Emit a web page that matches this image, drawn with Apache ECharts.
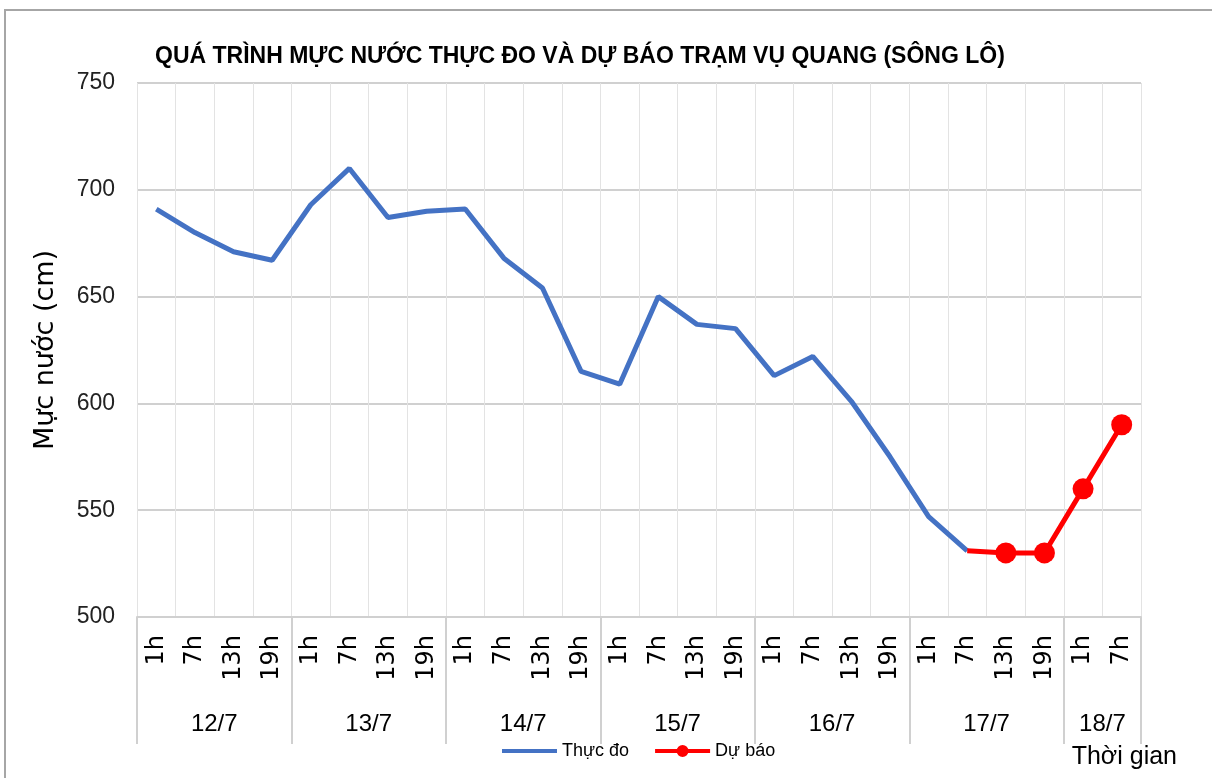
<!DOCTYPE html>
<html>
<head>
<meta charset="utf-8">
<script src="https://cdn.jsdelivr.net/npm/echarts@6/dist/echarts.min.js"></script>
<style>
  html, body { margin: 0; padding: 0; background: #fff; overflow: hidden; }
  #main1 { position: absolute; left: 0; top: 0; width: 1212px; height: 778px; }
  #frame { position: absolute; left: 4px; top: 9px; width: 1230px; height: 800px; border: 2px solid #a6a6a6; }
</style>
</head>
<body>
<div id="frame"></div>
<div id="main1"></div>
<script>
var dom1 = document.getElementById("main1");
var myChart1 = echarts.init(dom1);

// thoi diem quan trac trong ngay
var days = ['12/7', '13/7', '14/7', '15/7', '16/7', '17/7', '18/7'];
var hoursPerDay = [
    ['1h', '7h', '13h', '19h'], ['1h', '7h', '13h', '19h'], ['1h', '7h', '13h', '19h'],
    ['1h', '7h', '13h', '19h'], ['1h', '7h', '13h', '19h'], ['1h', '7h', '13h', '19h'],
    ['1h', '7h']
];
// muc nuoc thuc do (cm)
var thucDo = [691, 680, 671, 667, 693, 710, 687, 690, 691, 668, 654, 615,
    609, 650, 637, 635, 613, 622, 601, 575, 547, 531];
// muc nuoc du bao (cm), bat dau tu 17/7 7h
var duBao = [531, 530, 530, 560, 590];
var yTicks = [500, 550, 600, 650, 700, 750];

var hours = [];
hoursPerDay.forEach(function (h) { hours = hours.concat(h); });

var obsData = thucDo.slice();
var fcData = [];
for (var i = 0; i < thucDo.length - 1; i++) fcData.push(null);
duBao.forEach(function (v, k) {
    fcData.push(k === 0 ? { value: v, symbol: 'none' } : v);
});

// truc ngay: moi o gio chia doi -> diem bien va diem giua
var dayAxis = [], dayTickAt = {}, pos = 0;
for (var d = 0; d < days.length; d++) {
    dayTickAt[pos * 2] = true;
    pos += hoursPerDay[d].length;
}
dayTickAt[pos * 2] = true;
for (var j = 0; j <= pos * 2; j++) dayAxis.push('');
pos = 0;
for (var d = 0; d < days.length; d++) {
    dayAxis[pos * 2 + hoursPerDay[d].length] = days[d];
    pos += hoursPerDay[d].length;
}

var narrow = '"Liberation Sans Narrow", "Arial Narrow", sans-serif';
var verd = '"DejaVu Sans", Verdana, sans-serif';

// icon chu thich: vach ngang (co diem goc de giu khung 55x12)
var iconLine = 'path://M0,0 h0.1 v0.1 h-0.1 Z M0,4 H55 V8 H0 Z M54.9,11.9 h0.1 v0.1 h-0.1 Z';
var iconLineDot = 'path://M0,4 H55 V8 H0 Z M21.5,6 A6,6 0 1 1 33.5,6 A6,6 0 1 1 21.5,6 Z';

option = {
    title: [{
        text: 'QUÁ TRÌNH MỰC NƯỚC THỰC ĐO VÀ DỰ BÁO TRẠM VỤ QUANG (SÔNG LÔ)',
        left: 150,
        top: 40,
        textStyle: { fontFamily: narrow, fontWeight: 'bold', fontSize: 23, color: '#000' }
    }, {
        text: 'Thời gian',
        right: 30,
        top: 740,
        textStyle: { fontFamily: narrow, fontWeight: 'normal', fontSize: 25, color: '#000' }
    }],
    legend: {
        bottom: 13,
        left: 497,
        itemWidth: 55,
        itemHeight: 12,
        itemGap: 26,
        textStyle: { fontFamily: narrow, fontSize: 18, color: '#000' },
        data: [
            { name: 'Thực đo', icon: iconLine, itemStyle: { color: '#4472C4' } },
            { name: 'Dự báo', icon: iconLineDot, itemStyle: { color: '#FF0000' } }
        ]
    },
    grid: { left: 137, right: 71, top: 83, bottom: 161 },
    xAxis: [{
        type: 'category',
        data: hours,
        boundaryGap: true,
        axisLine: { lineStyle: { color: '#d0d0d0', width: 2 } },
        axisTick: { show: false },
        splitLine: { show: true, interval: 0, lineStyle: { color: '#e3e3e3', width: 1 } },
        axisLabel: {
            interval: 0,
            rotate: 90,
            margin: 18,
            fontFamily: verd,
            fontSize: 24,
            color: '#000'
        }
    }, {
        type: 'category',
        data: dayAxis,
        boundaryGap: false,
        position: 'bottom',
        gridIndex: 0,
        axisLine: { show: false },
        axisTick: {
            show: true,
            length: 127,
            interval: function (idx) { return !!dayTickAt[idx]; },
            lineStyle: { color: '#d0d0d0', width: 2 }
        },
        axisLabel: {
            interval: 0,
            margin: 95,
            fontFamily: narrow,
            fontSize: 24,
            color: '#000'
        },
        splitLine: { show: false }
    }],
    yAxis: {
        type: 'value',
        min: yTicks[0],
        max: yTicks[yTicks.length - 1],
        interval: 50,
        name: 'Mực nước (cm)',
        nameLocation: 'middle',
        nameGap: 78,
        nameTextStyle: { fontFamily: verd, fontSize: 27, color: '#000' },
        axisLine: { show: false },
        axisTick: { show: false },
        axisLabel: { margin: 22, fontFamily: narrow, fontSize: 23, color: '#222' },
        splitLine: { lineStyle: { color: '#d0d0d0', width: 2 } }
    },
    series: [{
        type: 'line',
        name: 'Thực đo',
        data: obsData,
        symbol: 'none',
        color: '#4472C4',
        lineStyle: { width: 5, color: '#4472C4' },
        z: 3
    }, {
        type: 'line',
        name: 'Dự báo',
        data: fcData,
        symbol: 'circle',
        symbolSize: 21,
        color: '#FF0000',
        itemStyle: { color: '#FF0000' },
        lineStyle: { width: 5, color: '#FF0000' },
        z: 4
    }],
    animation: false
};

if (option && typeof option === "object") {
    myChart1.setOption(option, true);
}
</script>
</body>
</html>
